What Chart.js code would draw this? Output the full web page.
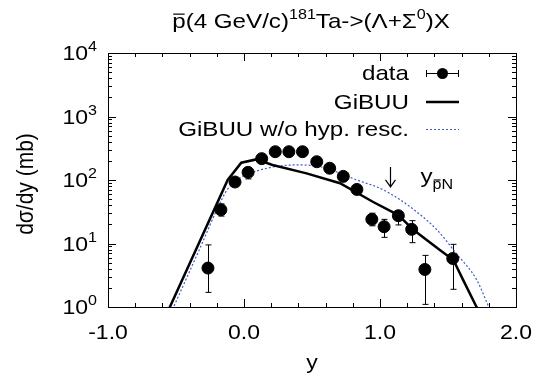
<!DOCTYPE html>
<html>
<head>
<meta charset="utf-8">
<script src="https://cdn.jsdelivr.net/npm/chart.js@4.4.0/dist/chart.umd.min.js"></script>
<style>
html, body { margin: 0; padding: 0; background: #fff; }
</style>
</head>
<body>
<canvas id="rapidity" width="548" height="385"></canvas>
<script>
// measured dsigma/dy (mb) vs rapidity y
var dataY     = [-0.265, -0.17, -0.066, 0.03, 0.13, 0.23, 0.33, 0.43, 0.535, 0.63, 0.73, 0.83, 0.94, 1.03, 1.135, 1.233, 1.33, 1.535];
var dataSigma = [4.1, 34, 93, 132, 217, 279, 279, 279, 194, 153, 114, 71, 24, 18.4, 27.4, 16.7, 3.9, 5.8];
var errLow    = [1.7, 27, 84, 104, 198, 262, 262, 262, 180, 142, 104, 65, 19, 12.5, 19.6, 10.3, 1.1, 1.9];
var errHigh   = [9.5, 42, 103, 155, 236, 298, 298, 298, 210, 166, 124, 78, 30, 24, 31, 22.9, 6.5, 9.7];

// GiBUU (full)
var gibuuY     = [-0.56, -0.12, -0.02, 0.09, 0.21, 0.46, 0.706, 0.95, 1.135, 1.245, 1.44, 1.54, 1.61, 1.71, 1.73];
var gibuuSigma = [0.85, 100, 187, 211, 172, 127, 89, 45, 28, 16.4, 7.9, 5.5, 2.7, 1.0, 0.85];

// GiBUU without hyperon rescattering
var noRescY     = [-0.55, -0.3, -0.2, -0.12, -0.03, 0.12, 0.25, 0.39, 0.56, 0.71, 0.83, 0.975, 1.07, 1.22, 1.42, 1.56, 1.71, 1.8, 1.82];
var noRescSigma = [0.7, 11, 34, 72, 108, 144, 165, 173, 162, 127, 100, 78, 62, 38, 16.3, 7, 2.7, 1.0, 0.8];

var xTicks = [-1, 0, 1, 2];
var xTickLabels = ['-1.0', '0.0', '1.0', '2.0'];
var yDecades = [0, 1, 2, 3, 4];
var beamRapidity = 1.07;

var FONT = '"Liberation Sans", Arial, Helvetica, sans-serif';
var BLUE = '#3b5bc8';
var SX = 1.15; // text is set a little wide

function pts(xs, ys) {
  return xs.map(function (x, i) { return { x: x, y: ys[i] }; });
}

function wideText(ctx, t, x, y) {
  ctx.save();
  ctx.translate(x, y);
  ctx.scale(SX, 1);
  ctx.fillText(t, 0, 0);
  ctx.restore();
}

// text with superscripts / subscripts; part.bar puts an overline on that part
function drawRich(ctx, parts, x, y, align, size) {
  var small = Math.round(size * 0.68);
  var w = 0;
  parts.forEach(function (p) {
    ctx.font = (p.sup || p.sub ? small : size) + 'px ' + FONT;
    p.w = ctx.measureText(p.t).width * SX;
    w += p.w;
  });
  var cx = align === 'center' ? x - w / 2 : (align === 'right' ? x - w : x);
  ctx.textAlign = 'left';
  ctx.textBaseline = 'alphabetic';
  parts.forEach(function (p) {
    var fs = p.sup || p.sub ? small : size;
    ctx.font = fs + 'px ' + FONT;
    var by = y + (p.sup ? -size * 0.45 : 0) + (p.sub ? size * 0.28 : 0);
    wideText(ctx, p.t, cx, by);
    if (p.bar) {
      ctx.save();
      ctx.lineWidth = 1.2;
      ctx.beginPath();
      ctx.moveTo(cx + 1, by - fs * 0.66);
      ctx.lineTo(cx + p.w - 1, by - fs * 0.66);
      ctx.stroke();
      ctx.restore();
    }
    cx += p.w;
  });
}

var errorBars = {
  id: 'errorBars',
  beforeDatasetsDraw: function (chart) {
    var ctx = chart.ctx, xs = chart.scales.x, ys = chart.scales.y;
    ctx.save();
    ctx.strokeStyle = '#000';
    ctx.lineWidth = 1;
    dataY.forEach(function (v, i) {
      var px = Math.round(xs.getPixelForValue(v)) + 0.5;
      var lo = ys.getPixelForValue(errLow[i]);
      var hi = ys.getPixelForValue(errHigh[i]);
      ctx.beginPath();
      ctx.moveTo(px, lo); ctx.lineTo(px, hi);
      ctx.moveTo(px - 3, lo); ctx.lineTo(px + 3, lo);
      ctx.moveTo(px - 3, hi); ctx.lineTo(px + 3, hi);
      ctx.stroke();
    });
    ctx.restore();
  }
};

var frame = {
  id: 'frame',
  afterDraw: function (chart) {
    var ctx = chart.ctx, a = chart.chartArea;
    var xs = chart.scales.x, ys = chart.scales.y;
    ctx.save();
    ctx.strokeStyle = '#000';
    ctx.fillStyle = '#000';
    ctx.lineWidth = 1;
    ctx.strokeRect(a.left + 0.5, a.top + 0.5, a.right - a.left, a.bottom - a.top);

    // x ticks: majors every 1, minors every 0.2, on bottom and top
    ctx.beginPath();
    for (var k = -10; k <= 20; k += 2) {
      var px = Math.round(xs.getPixelForValue(k / 10)) + 0.5;
      var len = (k % 10 === 0) ? 8 : 4;
      ctx.moveTo(px, a.bottom); ctx.lineTo(px, a.bottom - len);
      ctx.moveTo(px, a.top); ctx.lineTo(px, a.top + len);
    }
    // y ticks: decades and 2..9 minors, on left and right
    for (var d = 0; d < 4; d++) {
      for (var m = 1; m <= 9; m++) {
        var py = Math.round(ys.getPixelForValue(m * Math.pow(10, d))) + 0.5;
        var l = m === 1 ? 8 : 4;
        ctx.moveTo(a.left, py); ctx.lineTo(a.left + l, py);
        ctx.moveTo(a.right, py); ctx.lineTo(a.right - l, py);
      }
    }
    ctx.stroke();

    // tick labels
    xTicks.forEach(function (v, i) {
      drawRich(ctx, [{ t: xTickLabels[i] }], xs.getPixelForValue(v), a.bottom + 32, 'center', 20);
    });
    yDecades.forEach(function (e) {
      var py = ys.getPixelForValue(Math.pow(10, e));
      drawRich(ctx, [{ t: '10' }, { t: String(e), sup: true }], a.left - 11, py + 7, 'right', 20);
    });

    // axis titles
    drawRich(ctx, [{ t: 'y' }], (a.left + a.right) / 2, 369, 'center', 20);
    ctx.save();
    ctx.translate(26, (a.top + a.bottom) / 2 + 4);
    ctx.rotate(-Math.PI / 2);
    ctx.scale(1, SX);
    ctx.font = '21px ' + FONT;
    ctx.textAlign = 'center';
    ctx.textBaseline = 'middle';
    ctx.fillText('d\u03c3/dy (mb)', 0, 0);
    ctx.restore();

    // title
    drawRich(ctx, [
      { t: 'p', bar: true }, { t: '(4 GeV/c)' }, { t: '181', sup: true },
      { t: 'Ta->(\u039b+\u03a3' }, { t: '0', sup: true }, { t: ')X' }
    ], (a.left + a.right) / 2 - 1, 28, 'center', 21);

    // legend
    var lx = 409, sx0 = 426, sx1 = 459;
    drawRich(ctx, [{ t: 'data' }], lx, 80, 'right', 21);
    drawRich(ctx, [{ t: 'GiBUU' }], lx, 109, 'right', 21);
    drawRich(ctx, [{ t: 'GiBUU w/o hyp. resc.' }], lx, 136, 'right', 21);
    ctx.beginPath();
    ctx.moveTo(sx0, 73.5); ctx.lineTo(sx1, 73.5);
    ctx.moveTo(sx0 + 0.5, 70); ctx.lineTo(sx0 + 0.5, 77);
    ctx.moveTo(sx1 - 0.5, 70); ctx.lineTo(sx1 - 0.5, 77);
    ctx.stroke();
    ctx.beginPath();
    ctx.arc((sx0 + sx1) / 2, 73.5, 5.5, 0, 2 * Math.PI);
    ctx.fill();
    ctx.lineWidth = 2.5;
    ctx.beginPath();
    ctx.moveTo(sx0, 102); ctx.lineTo(sx1, 102);
    ctx.stroke();
    ctx.strokeStyle = BLUE;
    ctx.lineWidth = 1.2;
    ctx.setLineDash([2, 2]);
    ctx.beginPath();
    ctx.moveTo(sx0, 129.5); ctx.lineTo(sx1, 129.5);
    ctx.stroke();
    ctx.setLineDash([]);

    // beam rapidity marker
    ctx.strokeStyle = '#000';
    ctx.lineWidth = 1.2;
    var ax = Math.round(xs.getPixelForValue(beamRapidity)) + 0.5;
    var ay0 = ys.getPixelForValue(160), ay1 = ys.getPixelForValue(78);
    ctx.beginPath();
    ctx.moveTo(ax, ay0); ctx.lineTo(ax, ay1);
    ctx.moveTo(ax - 5, ay1 - 7); ctx.lineTo(ax, ay1); ctx.lineTo(ax + 5, ay1 - 7);
    ctx.stroke();
    drawRich(ctx, [{ t: 'y' }, { t: 'p', sub: true, bar: true }, { t: 'N', sub: true }],
      ax + 30, ys.getPixelForValue(110) + 6, 'left', 21);
    ctx.restore();
  }
};

var chart = new Chart(document.getElementById('rapidity'), {
  type: 'scatter',
  data: {
    datasets: [
      {
        label: 'data',
        data: pts(dataY, dataSigma),
        backgroundColor: '#000',
        borderColor: '#000',
        pointRadius: 6,
        pointHoverRadius: 6,
        order: 0
      },
      {
        label: 'GiBUU',
        type: 'line',
        data: pts(gibuuY, gibuuSigma),
        borderColor: '#000',
        borderWidth: 2.5,
        pointRadius: 0,
        tension: 0,
        fill: false,
        order: 1
      },
      {
        label: 'GiBUU w/o hyp. resc.',
        type: 'line',
        data: pts(noRescY, noRescSigma),
        borderColor: BLUE,
        borderWidth: 1.2,
        borderDash: [2, 2],
        pointRadius: 0,
        cubicInterpolationMode: 'monotone',
        fill: false,
        order: 2
      }
    ]
  },
  options: {
    responsive: false,
    animation: false,
    layout: { padding: { left: 108, right: 32, top: 53, bottom: 78 } },
    plugins: {
      legend: { display: false },
      tooltip: { enabled: false },
      title: { display: false }
    },
    scales: {
      x: { type: 'linear', min: -1, max: 2, display: false },
      y: { type: 'logarithmic', min: 1, max: 10000, display: false }
    }
  },
  plugins: [errorBars, frame]
});
</script>
</body>
</html>
